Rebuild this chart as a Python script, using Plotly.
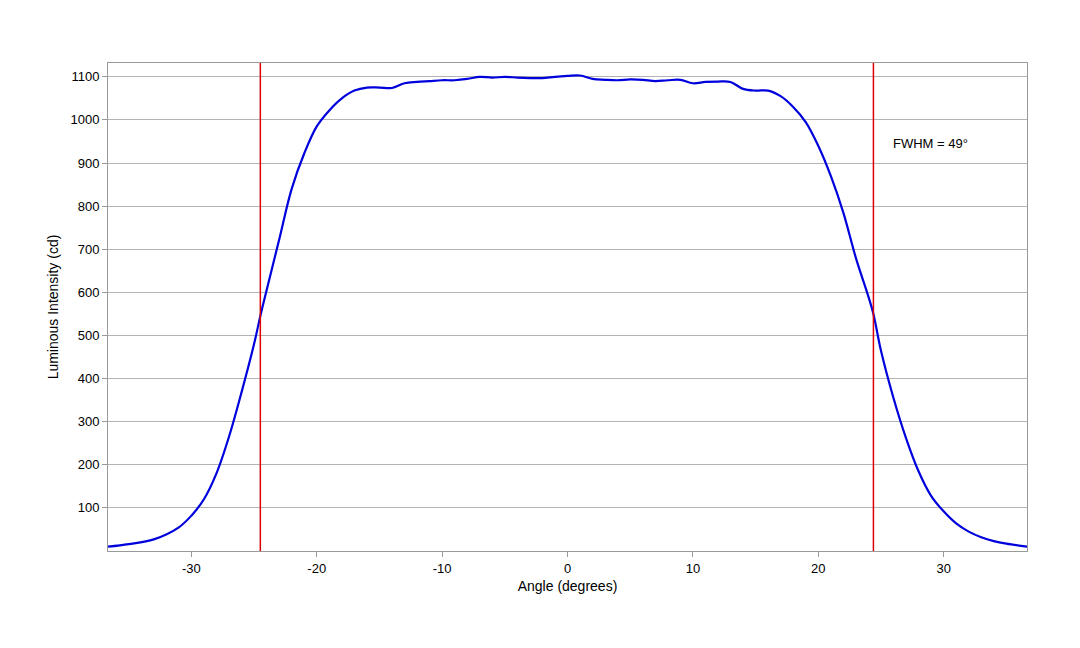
import plotly.graph_objects as go

angle = [-36.65,-35,-33,-31,-30,-29,-28,-27,-26,-25,-24.5,-24,-23,-22,-21,-20,-19,-18,-17,-16,-15,-14,-13,-12,-11,-10,-9,-8,-7,-6,-5,-4,-3,-2,-1,0,1,2,3,4,5,6,7,8,9,10,11,12,13,14,15,16,17,18,19,20,21,22,23,24,24.4,25,26,27,28,29,30,31,32,33,34,35,36.65]
intensity = [10,16,27,55,82,120,180,265,368,480,545,605,722,840,922,985,1022,1050,1068,1075,1075,1074,1085,1088,1090,1092,1092,1095,1100,1098,1100,1098,1097,1097,1100,1102,1103,1095,1093,1092,1094,1093,1090,1092,1093,1085,1088,1089,1088,1072,1068,1068,1055,1030,995,940,870,785,680,590,550,465,355,262,185,128,92,64,45,32,23,17,10]
fwhm_lines = [-24.5, 24.4]
yticks = [100,200,300,400,500,600,700,800,900,1000,1100]
xticks = [-30,-20,-10,0,10,20,30]

fig = go.Figure()
fig.add_trace(go.Scatter(x=angle, y=intensity, mode="lines", line=dict(color="#0000dd", width=2.2, shape="spline", smoothing=1.0), showlegend=False))
for xv in fwhm_lines:
    fig.add_shape(type="line", x0=xv, x1=xv, y0=0, y1=1, yref="paper", line=dict(color="#dd0000", width=1.5))
fig.add_annotation(x=25.8, y=945, text="FWHM = 49°", showarrow=False, xanchor="left", font=dict(size=13, color="black"))
fig.update_layout(
    width=1080, height=648, paper_bgcolor="white", plot_bgcolor="white",
    margin=dict(l=100, r=61, t=55, b=105),
    font=dict(family="Liberation Sans, Arial, sans-serif", size=13, color="black"),
    xaxis=dict(range=[-36.65, 36.65], tickvals=xticks, ticktext=[str(v) for v in xticks], showgrid=False, zeroline=False,
               showline=True, mirror=True, linecolor="#999", ticks="outside", tickcolor="#999",
               title=dict(text="Angle (degrees)", standoff=6, font=dict(size=14))),
    yaxis=dict(range=[0, 1132], tickvals=yticks, showgrid=True, gridcolor="#b3b3b3", zeroline=False,
               showline=True, mirror=True, linecolor="#999", ticks="outside", tickcolor="#999",
               title=dict(text="Luminous Intensity (cd)", standoff=8, font=dict(size=14))),
)
fig.write_html("out.html")
